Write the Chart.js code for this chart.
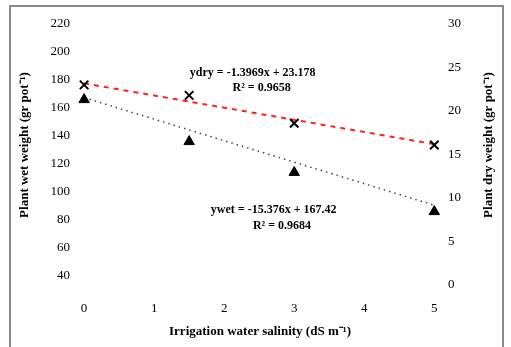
<!DOCTYPE html>
<html><head><meta charset="utf-8">
<script src="https://cdn.jsdelivr.net/npm/chart.js@4/dist/chart.umd.min.js"></script>
<style>
html,body{margin:0;padding:0;background:#fff;overflow:hidden;}
#wrap{position:relative;width:511px;height:347px;}
#frame{position:absolute;left:9px;top:5px;width:495px;height:360px;border:2px solid #8a8a8a;box-sizing:border-box;}
canvas{position:absolute;left:0;top:0;}
</style></head>
<body><div id="wrap"><div id="frame"></div><canvas id="c" width="511" height="347"></canvas></div>
<script>
const salinity = [0, 1.5, 3, 5];
const wetWeight = [166, 136, 114, 86];
const dryWeight = [23.0, 21.8, 18.6, 16.1];
const trendX = [0, 5];
const wetTrend = [167.42, 90.54];
const dryTrend = [23.18, 16.19];
const xTicks = [0, 1, 2, 3, 4, 5];
const leftTicks = [40, 60, 80, 100, 120, 140, 160, 180, 200, 220];
const rightTicks = [0, 5, 10, 15, 20, 25, 30];
const xTitle = 'Irrigation water salinity (dS m\u207B\u00B9)';
const leftTitle = 'Plant wet weight (gr pot\u207B\u00B9)';
const rightTitle = 'Plant dry weight (gr pot\u207B\u00B9)';
const dryEq = ['ydry = -1.3969x + 23.178', 'R\u00B2 = 0.9658'];
const wetEq = ['ywet = -15.376x + 167.42', 'R\u00B2 = 0.9684'];

const pts = (xs, ys) => xs.map((x, i) => ({x, y: ys[i]}));
const FONT = '"Liberation Serif", "Times New Roman", serif';

const textPlugin = {
  id: 'texts',
  afterDraw(chart) {
    const {ctx, scales} = chart;
    ctx.save();
    ctx.fillStyle = '#000';
    ctx.font = 'bold 13px ' + FONT;
    ctx.textAlign = 'center';
    ctx.textBaseline = 'middle';
    ctx.fillText(xTitle, 260, 332);
    const midY = 145;
    ctx.save(); ctx.translate(25, midY); ctx.rotate(-Math.PI / 2); ctx.fillText(leftTitle, 0, 0); ctx.restore();
    ctx.save(); ctx.translate(489, midY); ctx.rotate(-Math.PI / 2); ctx.fillText(rightTitle, 0, 0); ctx.restore();
    ctx.font = 'bold 12px ' + FONT;
    ctx.textAlign = 'left';
    const x = scales.x, yl = scales.yL, yr = scales.yR;
    ctx.fillText(dryEq[0], x.getPixelForValue(1.51), yr.getPixelForValue(24.4));
    ctx.fillText(dryEq[1], x.getPixelForValue(2.12), yr.getPixelForValue(22.6));
    ctx.fillText(wetEq[0], x.getPixelForValue(1.81), yl.getPixelForValue(87));
    ctx.fillText(wetEq[1], x.getPixelForValue(2.41), yl.getPixelForValue(76));
    ctx.restore();
  }
};

new Chart(document.getElementById('c'), {
  type: 'scatter',
  data: {
    datasets: [
      {label: 'dry trend', type: 'line', data: pts(trendX, dryTrend), yAxisID: 'yR',
       borderColor: '#ff2020', borderWidth: 2, borderDash: [5, 5], pointRadius: 0, fill: false, order: 3},
      {label: 'wet trend', type: 'line', data: pts(trendX, wetTrend), yAxisID: 'yL',
       borderColor: '#444', borderWidth: 1.5, borderDash: [1.5, 4], pointRadius: 0, fill: false, order: 4},
      {label: 'dry', data: pts(salinity, dryWeight), yAxisID: 'yR', pointStyle: 'crossRot',
       pointRadius: 6, borderColor: '#000', borderWidth: 2, backgroundColor: '#000', order: 1},
      {label: 'wet', data: pts(salinity, wetWeight), yAxisID: 'yL', pointStyle: 'triangle',
       pointRadius: 6, borderColor: '#000', borderWidth: 1, backgroundColor: '#000', order: 2}
    ]
  },
  options: {
    responsive: false, animation: false, devicePixelRatio: 1,
    layout: {padding: {top: 24, left: 0, right: 0, bottom: 0}},
    plugins: {legend: {display: false}, tooltip: {enabled: false}},
    scales: {
      x: {type: 'linear', min: -0.13, max: 5.11,
          afterBuildTicks: s => { s.ticks = xTicks.map(v => ({value: v})); },
          afterFit: s => { s.height = 55; },
          grid: {display: false, drawTicks: false}, border: {display: false},
          ticks: {padding: 9, color: '#000', font: {family: FONT, size: 13}}},
      yL: {position: 'left', min: 28.57, max: 220,
          afterBuildTicks: s => { s.ticks = leftTicks.map(v => ({value: v})); },
          afterFit: s => { s.width = 75; },
          grid: {display: false, drawTicks: false}, border: {display: false},
          ticks: {padding: 5, color: '#000', font: {family: FONT, size: 13}}},
      yR: {position: 'right', min: -0.8, max: 30,
          afterBuildTicks: s => { s.ticks = rightTicks.map(v => ({value: v})); },
          afterFit: s => { s.width = 69; },
          grid: {display: false, drawTicks: false}, border: {display: false},
          ticks: {padding: 6, color: '#000', font: {family: FONT, size: 13}}}
    }
  },
  plugins: [textPlugin]
});
</script></body></html>
